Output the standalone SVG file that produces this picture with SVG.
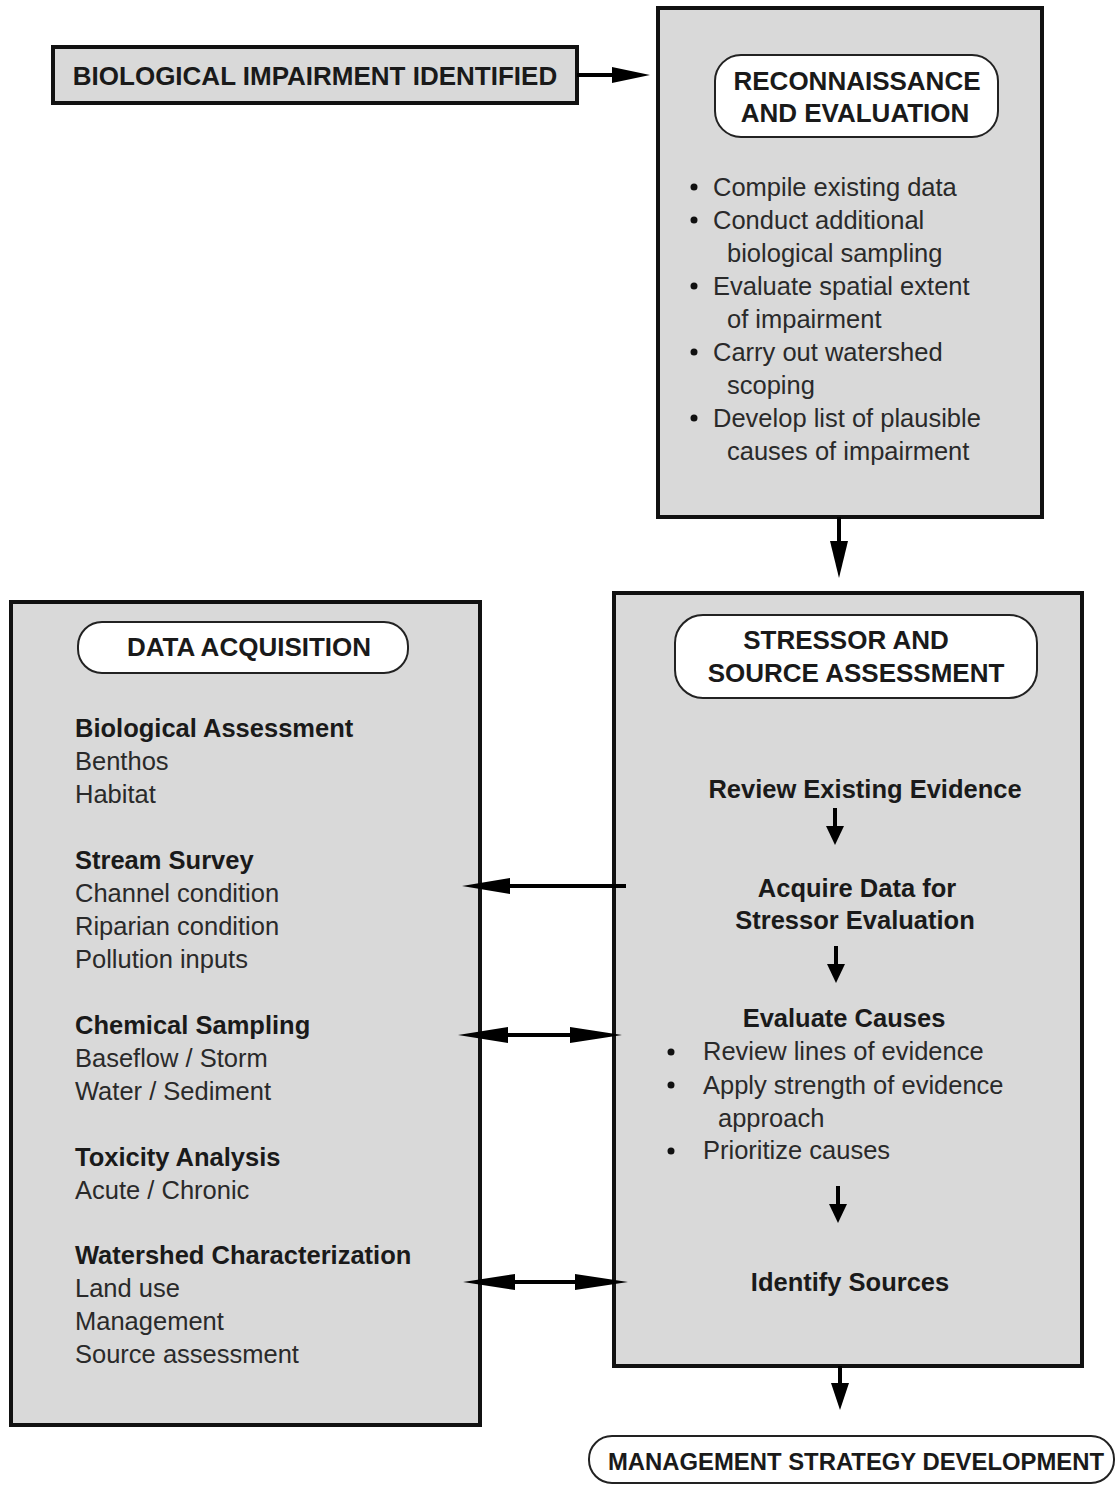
<svg xmlns="http://www.w3.org/2000/svg" width="1119" height="1485" viewBox="0 0 1119 1485">
<style>
.box{fill:#d9d9d9;stroke:#111;stroke-width:4}
.hdr{fill:#fff;stroke:#222;stroke-width:2}
.cap{font-family:"Liberation Sans",Arial,Helvetica,sans-serif;font-weight:bold;font-size:26px;fill:#1a1a1a}
.b{font-family:"Liberation Sans",Arial,Helvetica,sans-serif;font-weight:bold;font-size:25.5px;fill:#1a1a1a}
.r{font-family:"Liberation Sans",Arial,Helvetica,sans-serif;font-size:25.5px;fill:#2a2a2a}
.mid{text-anchor:middle}
.ln{stroke:#000;stroke-width:4;fill:none}
.hd{fill:#000}
.dot{fill:#111}
</style>
<rect width="1119" height="1485" fill="#fff"/>

<g id="biological-impairment">
<rect class="box" x="53" y="47" width="524" height="56"/>
<text class="cap mid" x="315" y="85">BIOLOGICAL IMPAIRMENT IDENTIFIED</text>
</g>

<g id="reconnaissance">
<rect class="box" x="658" y="8" width="384" height="509"/>
<rect class="hdr" x="715" y="55" width="283" height="82" rx="26"/>
<text class="cap mid" x="857" y="90">RECONNAISSANCE</text>
<text class="cap mid" x="855" y="122">AND EVALUATION</text>
<circle class="dot" cx="694" cy="187" r="3.5"/>
<text class="r" x="713" y="196">Compile existing data</text>
<circle class="dot" cx="694" cy="220" r="3.5"/>
<text class="r" x="713" y="229">Conduct additional</text>
<text class="r" x="727" y="262">biological sampling</text>
<circle class="dot" cx="694" cy="286" r="3.5"/>
<text class="r" x="713" y="295">Evaluate spatial extent</text>
<text class="r" x="727" y="328">of impairment</text>
<circle class="dot" cx="694" cy="352" r="3.5"/>
<text class="r" x="713" y="361">Carry out watershed</text>
<text class="r" x="727" y="394">scoping</text>
<circle class="dot" cx="694" cy="418" r="3.5"/>
<text class="r" x="713" y="427">Develop list of plausible</text>
<text class="r" x="727" y="460">causes of impairment</text>
</g>

<g id="data-acquisition">
<rect class="box" x="11" y="602" width="469" height="823"/>
<rect class="hdr" x="78" y="622" width="330" height="51" rx="24"/>
<text class="cap mid" x="249" y="656">DATA ACQUISITION</text>
<text class="b" x="75" y="737">Biological Assessment</text>
<text class="r" x="75" y="770">Benthos</text>
<text class="r" x="75" y="803">Habitat</text>
<text class="b" x="75" y="869">Stream Survey</text>
<text class="r" x="75" y="902">Channel condition</text>
<text class="r" x="75" y="935">Riparian condition</text>
<text class="r" x="75" y="968">Pollution inputs</text>
<text class="b" x="75" y="1034">Chemical Sampling</text>
<text class="r" x="75" y="1067">Baseflow / Storm</text>
<text class="r" x="75" y="1100">Water / Sediment</text>
<text class="b" x="75" y="1166">Toxicity Analysis</text>
<text class="r" x="75" y="1199">Acute / Chronic</text>
<text class="b" x="75" y="1264">Watershed Characterization</text>
<text class="r" x="75" y="1297">Land use</text>
<text class="r" x="75" y="1330">Management</text>
<text class="r" x="75" y="1363">Source assessment</text>
</g>

<g id="stressor-source">
<rect class="box" x="614" y="593" width="468" height="773"/>
<rect class="hdr" x="675" y="615" width="362" height="83" rx="28"/>
<text class="cap mid" x="846" y="649">STRESSOR AND</text>
<text class="cap mid" x="856" y="682">SOURCE ASSESSMENT</text>
<text class="b mid" x="865" y="798">Review Existing Evidence</text>
<text class="b mid" x="857" y="897">Acquire Data for</text>
<text class="b mid" x="855" y="929">Stressor Evaluation</text>
<text class="b mid" x="844" y="1027">Evaluate Causes</text>
<circle class="dot" cx="671" cy="1052" r="3.5"/>
<text class="r" x="703" y="1060">Review lines of evidence</text>
<circle class="dot" cx="671" cy="1085" r="3.5"/>
<text class="r" x="703" y="1094">Apply strength of evidence</text>
<text class="r" x="718" y="1127">approach</text>
<circle class="dot" cx="671" cy="1151" r="3.5"/>
<text class="r" x="703" y="1159">Prioritize causes</text>
<text class="b mid" x="850" y="1291">Identify Sources</text>
<path class="ln" d="M835 808V828"/>
<polygon class="hd" points="826,826 844,826 835,845"/>
<path class="ln" d="M836 946V966"/>
<polygon class="hd" points="827,964 845,964 836,983"/>
<path class="ln" d="M838 1186V1206"/>
<polygon class="hd" points="829,1204 847,1204 838,1223"/>
</g>

<g id="management-strategy">
<rect class="hdr" x="589" y="1436" width="525" height="47" rx="23"/>
<text class="cap mid" x="856" y="1470" style="font-size:23px" textLength="496" lengthAdjust="spacingAndGlyphs">MANAGEMENT STRATEGY DEVELOPMENT</text>
</g>

<g id="connectors">
<path class="ln" d="M577 75H615"/>
<polygon class="hd" points="612,67 650,75 612,83"/>
<path class="ln" d="M839 517V545"/>
<polygon class="hd" points="830,541 848,541 839,578"/>
<path class="ln" d="M840 1366V1387"/>
<polygon class="hd" points="831,1383 849,1383 840,1410"/>
<path class="ln" d="M626 886H505"/>
<polygon class="hd" points="510,878 462,886 510,894"/>
<path class="ln" d="M505 1035H575"/>
<polygon class="hd" points="508,1027 458,1035 508,1043"/>
<polygon class="hd" points="570,1027 622,1035 570,1043"/>
<path class="ln" d="M512 1282H580"/>
<polygon class="hd" points="515,1274 463,1282 515,1290"/>
<polygon class="hd" points="575,1274 628,1282 575,1290"/>
</g>
</svg>
